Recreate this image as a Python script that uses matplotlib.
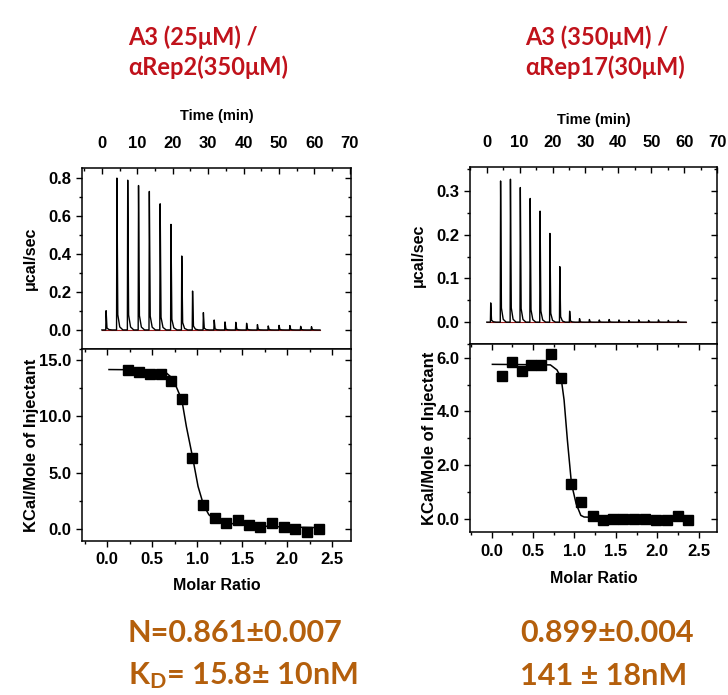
import matplotlib
matplotlib.use("Agg")
import matplotlib.pyplot as plt
from matplotlib import lines as mlines
from matplotlib.ticker import MultipleLocator, FormatStrFormatter

# ---------------- data ----------------
# Left experiment: A3 (25 uM) / aRep2 (350 uM)
inj_time_L = [1.1, 4.15, 7.2, 10.25, 13.3, 16.35, 19.4, 22.45, 25.5, 28.55,
              31.6, 34.65, 37.7, 40.75, 43.8, 46.85, 49.9, 52.95, 56.0, 59.05]
peak_L = [0.101, 0.797, 0.786, 0.758, 0.727, 0.662, 0.554, 0.388, 0.204, 0.091,
          0.052, 0.042, 0.040, 0.035, 0.028, 0.021, 0.024, 0.023, 0.019, 0.017]
ratio_L = [0.234, 0.353, 0.475, 0.594, 0.710, 0.827, 0.947, 1.070, 1.196, 1.322,
           1.449, 1.571, 1.701, 1.831, 1.961, 2.091, 2.221, 2.359]
heat_L = [14.11, 13.96, 13.81, 13.81, 13.13, 11.54, 6.33, 2.13, 0.92, 0.47,
          0.74, 0.36, 0.18, 0.53, 0.18, -0.03, -0.27, 0.00]
fit_x_L = [0.02, 0.30, 0.59, 0.66, 0.71, 0.77, 0.83, 0.88, 0.95, 1.01, 1.07,
           1.13, 1.20, 1.33, 1.59, 1.96, 2.36]
fit_y_L = [14.17, 14.15, 14.05, 13.85, 13.50, 12.60, 11.45, 9.10, 6.33, 3.76,
           2.13, 1.24, 0.80, 0.50, 0.27, 0.15, 0.09]

# Right experiment: A3 (350 uM) / aRep17 (30 uM)
inj_time_R = [1.1, 4.1, 7.1, 10.1, 13.1, 16.1, 19.1, 22.1, 25.1, 28.1,
              31.1, 34.1, 37.1, 40.1, 43.1, 46.1, 49.1, 52.1, 55.1, 58.1]
peak_R = [0.044, 0.323, 0.327, 0.308, 0.283, 0.254, 0.203, 0.127, 0.025, 0.008,
          0.006, 0.005, 0.006, 0.005, 0.004, 0.005, 0.004, 0.005, 0.004, 0.004]
ratio_R = [0.125, 0.246, 0.367, 0.480, 0.601, 0.722, 0.843, 0.964, 1.085, 1.218,
           1.339, 1.460, 1.589, 1.722, 1.851, 1.984, 2.113, 2.246, 2.375]
heat_R = [5.32, 5.86, 5.53, 5.75, 5.75, 6.14, 5.24, 1.31, 0.61, 0.11,
          -0.04, 0.00, -0.02, 0.00, 0.00, -0.06, -0.05, 0.09, -0.06]
fit_x_R = [0.01, 0.40, 0.71, 0.79, 0.84, 0.875, 0.915, 0.964, 1.02, 1.077,
           1.117, 1.28, 2.375]
fit_y_R = [5.76, 5.75, 5.74, 5.55, 5.24, 4.43, 2.93, 1.31, 0.56, 0.12,
           0.06, 0.04, 0.04]

titles = [["A3 (25μM) /", "αRep2(350μM)"], ["A3 (350μM) /", "αRep17(30μM)"]]
results = [["N=0.861±0.007", r"K$_\mathregular{D}$= 15.8± 10nM"],
           ["0.899±0.004", "141 ± 18nM"]]

# ---------------- layout ----------------
W, H = 728, 695
plt.rcParams['font.family'] = ['Liberation Sans', 'DejaVu Sans']
plt.rcParams['font.weight'] = 'bold'
plt.rcParams['mathtext.default'] = 'regular'
fig = plt.figure(figsize=(W / 100, H / 100), dpi=100)

TICK_FS = 12
LABEL_FS = 11.5


def rect(l, r, t, b):
    return [l / W, 1 - b / H, (r - l) / W, (b - t) / H]


def trace(times, peaks):
    xs, ys = [0.0], [0.0]
    for t, h in zip(times, peaks):
        xs += [t, t + 0.1, t + 0.35, t + 0.9, t + 1.8]
        ys += [0.0, h, 0.10 * h, 0.02 * h, 0.0]
    xs.append(times[-1] + 2.5)
    ys.append(0.0)
    return xs, ys


cfg = [
    dict(top=rect(82, 351, 168, 349), bot=rect(82, 351, 349, 541),
         tx=inj_time_L, pk=peak_L, xlim_t=(-5.6, 70.3), ylim_t=(-0.1, 0.85),
         ymaj_t=0.2,
         rx=ratio_L, hy=heat_L, fx=fit_x_L, fy=fit_y_L,
         xlim_b=(-0.28, 2.71), ylim_b=(-1.1, 16.0), ymaj_b=5.0,
         title_x=128, res_x=128, tickpad=12, tpad=12, bpad=4, mpad=8),
    dict(top=rect(470, 717, 167, 344), bot=rect(470, 717, 344, 532),
         tx=inj_time_R, pk=peak_R, xlim_t=(-5.1, 70.0), ylim_t=(-0.05, 0.355),
         ymaj_t=0.1,
         rx=ratio_R, hy=heat_R, fx=fit_x_R, fy=fit_y_R,
         xlim_b=(-0.26, 2.72), ylim_b=(-0.5, 6.52), ymaj_b=2.0,
         title_x=525, res_x=520, tickpad=12, tpad=8.5, bpad=5, mpad=8),
]

for i, c in enumerate(cfg):
    # --- thermogram ---
    at = fig.add_axes(c['top'])
    xs, ys = trace(c['tx'], c['pk'])
    at.plot([0, c['tx'][-1] + 2.5], [0, 0], color='#9b1b1b', lw=0.8, zorder=1)
    at.plot(xs, ys, color='black', lw=1.0, zorder=2)
    at.set_xlim(*c['xlim_t'])
    at.set_ylim(*c['ylim_t'])
    at.xaxis.set_label_position('top')
    at.xaxis.tick_top()
    at.xaxis.set_major_locator(MultipleLocator(10))
    at.xaxis.set_minor_locator(MultipleLocator(5))
    at.yaxis.set_major_locator(MultipleLocator(c['ymaj_t']))
    at.yaxis.set_minor_locator(MultipleLocator(c['ymaj_t'] / 2))
    at.yaxis.set_major_formatter(FormatStrFormatter('%.1f'))
    at.tick_params(axis='x', which='both', top=True, bottom=False, direction='in',
                   labeltop=True, labelbottom=False, pad=c['tickpad'])
    at.tick_params(axis='y', which='both', left=True, right=True, direction='out')
    at.set_xlabel('Time (min)', fontsize=LABEL_FS - 1, fontweight='bold',
                  labelpad=c['tpad'])
    at.set_ylabel('μcal/sec', fontsize=LABEL_FS, fontweight='bold', labelpad=8)

    # --- isotherm ---
    ab = fig.add_axes(c['bot'])
    ab.plot(c['fx'], c['fy'], color='black', lw=1.1, zorder=2)
    ab.plot(c['rx'], c['hy'], ls='none', marker='s', ms=7, color='black', zorder=3)
    ab.set_xlim(*c['xlim_b'])
    ab.set_ylim(*c['ylim_b'])
    ab.xaxis.set_major_locator(MultipleLocator(0.5))
    ab.xaxis.set_minor_locator(MultipleLocator(0.25))
    ab.yaxis.set_major_locator(MultipleLocator(c['ymaj_b']))
    ab.yaxis.set_minor_locator(MultipleLocator(c['ymaj_b'] / 2))
    ab.yaxis.set_major_formatter(FormatStrFormatter('%.1f'))
    ab.xaxis.set_major_formatter(FormatStrFormatter('%.1f'))
    ab.tick_params(axis='both', which='both', direction='out')
    ab.tick_params(axis='x', which='both', top=True, pad=c['bpad'])
    ab.tick_params(axis='y', which='both', right=True)
    ab.set_xlabel('Molar Ratio', fontsize=LABEL_FS, fontweight='bold',
                  labelpad=c['mpad'])
    ab.set_ylabel('KCal/Mole of Injectant', fontsize=LABEL_FS + 0.5,
                  fontweight='bold', labelpad=0)

    for ax in (at, ab):
        for s in ax.spines.values():
            s.set_linewidth(1.1)
        ax.tick_params(which='major', length=4, width=1.0, labelsize=TICK_FS)
        ax.tick_params(which='minor', length=2.5, width=1.0)
        for lbl in ax.get_xticklabels() + ax.get_yticklabels():
            lbl.set_fontweight('bold')
        # right-side ticks point inward
        for tl in ax.yaxis.get_majorticklines()[1::2] + ax.yaxis.get_minorticklines()[1::2]:
            tl.set_marker(mlines.TICKLEFT)
    # top ticks of isotherm point inward
    for tl in ab.xaxis.get_majorticklines()[1::2] + ab.xaxis.get_minorticklines()[1::2]:
        tl.set_marker(mlines.TICKDOWN)

    # --- titles and results ---
    for j, line in enumerate(titles[i]):
        fig.text(c['title_x'] / W, 1 - (37 + 30 * j) / H, line, color='#c0121b',
                 fontsize=17, fontweight='bold', family=['Lato', 'DejaVu Sans'],
                 ha='left', va='center')
    for j, line in enumerate(results[i]):
        fig.text(c['res_x'] / W, 1 - (633 + 43 * j) / H, line, color='#b45f0c',
                 fontsize=22, fontweight='bold', family=['Lato', 'DejaVu Sans'],
                 ha='left', va='center')

fig.savefig('out.png', dpi=100)
